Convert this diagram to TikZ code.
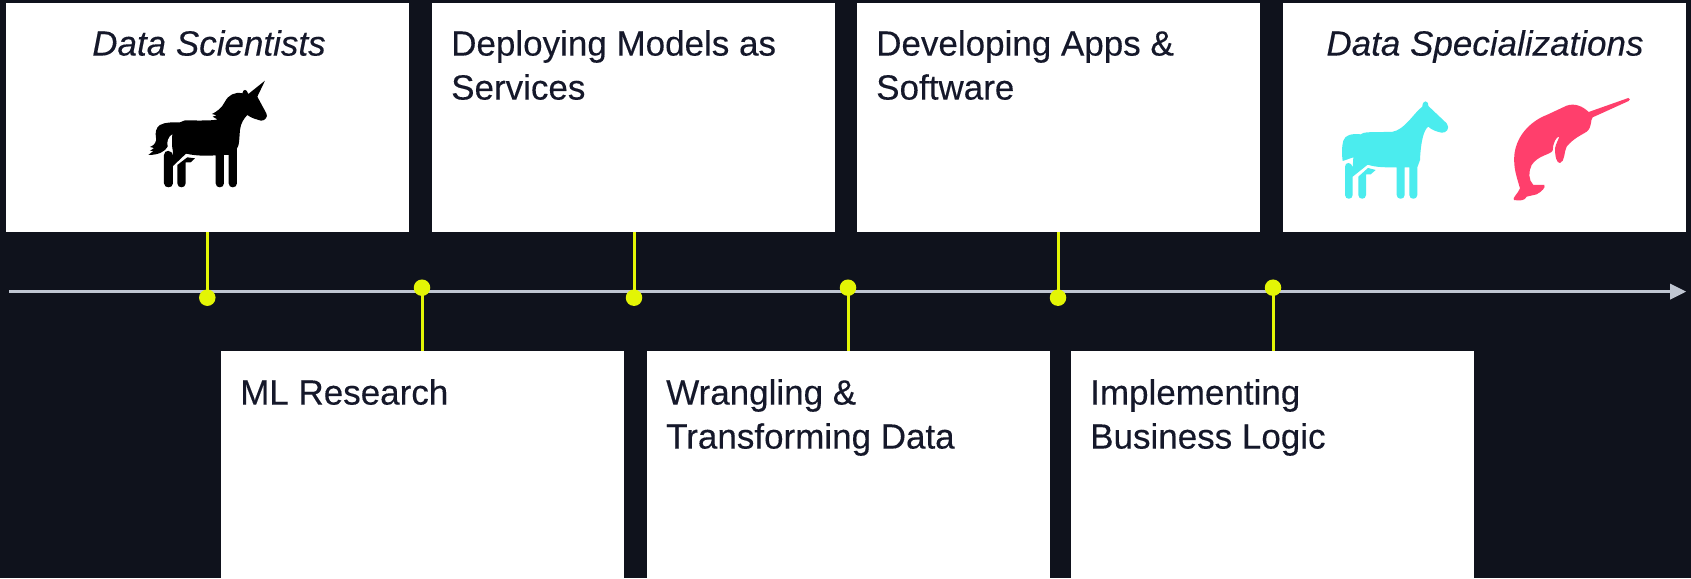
\documentclass[tikz,border=0pt]{standalone}
\usepackage{fontspec}
\setmainfont[Ligatures=TeX,FakeBold=0.25]{Liberation Sans}
\definecolor{bgc}{HTML}{0F121C}
\definecolor{inkc}{HTML}{15182A}
\definecolor{limec}{HTML}{E3F505}
\definecolor{axisc}{HTML}{C0C6D2}
\definecolor{cyanc}{HTML}{4BECEE}
\definecolor{pinkc}{HTML}{FF3F6C}
\tikzset{
 card/.style={fill=white,draw=none,minimum width=403pt,minimum height=229pt,anchor=north west,inner sep=0pt},
 lab/.style={anchor=north west,align=left,inner sep=0pt,text=inkc,font=\fontsize{35}{44}\selectfont},
 ilab/.style={anchor=north,inner sep=0pt,text=inkc,font=\fontsize{35}{44}\selectfont\itshape},
 dot/.style={circle,fill=limec,minimum size=16.5pt,inner sep=0pt},
 stem/.style={draw=limec,line width=3pt},
 axisl/.style={draw=axisc,line width=3pt},
}
\begin{document}
\begin{tikzpicture}[x=1pt,y=-1pt]
\fill[bgc] (0,0) rectangle (1691,578);
\useasboundingbox (0,0) rectangle (1691,578);
\node[card] (c1) at (6,3) {};
\node[card] (c3) at (432,3) {};
\node[card] (c5) at (857,3) {};
\node[card] (c7) at (1283,3) {};
\node[card] (c2) at (221,351) {};
\node[card] (c4) at (647,351) {};
\node[card] (c6) at (1071,351) {};
\coordinate (as) at (9,291.3);
\coordinate (ae) at (1686,291.6);
\draw[axisl] (as) -- (1672,291.3);
\fill[axisc] (1670,283.6) -- (ae) -- (1670,299.7) -- cycle;
\node[dot] (d1) at (207.3,297.7) {};
\node[dot] (d2) at (422,287.7) {};
\node[dot] (d3) at (634,297.7) {};
\node[dot] (d4) at (848,287.7) {};
\node[dot] (d5) at (1058,297.7) {};
\node[dot] (d6) at (1273,287.7) {};
\draw[stem] (d1.center) -- (d1.center |- c1.south);
\draw[stem] (d2.center) -- (d2.center |- c2.north);
\draw[stem] (d3.center) -- (d3.center |- c3.south);
\draw[stem] (d4.center) -- (d4.center |- c4.north);
\draw[stem] (d5.center) -- (d5.center |- c5.south);
\draw[stem] (d6.center) -- (d6.center |- c6.north);
\node[ilab] (t1) at (209,30) {Data Scientists};
\node[lab] (t3) at (451,30) {Deploying Models as\\Services};
\node[lab] (t5) at (876,30) {Developing Apps \&\\Software};
\node[ilab] (t7) at (1485,30) {Data Specializations};
\node[lab] (t2) at (240,379) {ML Research};
\node[lab] (t4) at (666,379) {Wrangling \&\\Transforming Data};
\node[lab] (t6) at (1090,379) {Implementing\\Business Logic};
% unicorn
\begin{scope}[shift={(100,50)},x=0.3333pt,y=-0.3333pt]
\fill[black,line join=round] (495,92) -- (445,132) .. controls (440,116) and (430,116) .. (427,130)
 .. controls (405,125) and (385,135) .. (375,155) .. controls (365,175) and (350,185) .. (336,192)
 -- (350,196) -- (338,200) -- (352,208) .. controls (345,212) and (300,212) .. (255,211)
 -- (240,217) .. controls (220,217) and (195,216) .. (180,225) .. controls (168,232) and (165,250) .. (168,262)
 .. controls (170,275) and (165,285) .. (150,291) -- (162,294) -- (150,303) -- (160,303) -- (145,315)
 .. controls (175,315) and (195,305) .. (203,290) .. controls (200,275) and (203,262) .. (217,252)
 .. controls (216,270) and (215,290) .. (219,305) -- (219,348) -- (258,311)
 .. controls (290,318) and (320,318) .. (347,316) -- (347,400) .. controls (347,416) and (372,416) .. (372,400)
 -- (372,315) -- (386,315) -- (386,400) .. controls (386,416) and (411,416) .. (411,400)
 -- (411,295) .. controls (418,290) and (418,260) .. (420,240) .. controls (422,220) and (432,205) .. (442,195)
 .. controls (455,205) and (470,208) .. (483,212) .. controls (495,213) and (505,200) .. (499,190)
 -- (472,140) -- cycle;
\fill[black] (192,315) .. controls (192,298) and (217,298) .. (219,318) -- (219,400) .. controls (219,416) and (192,416) .. (192,400) -- cycle;
\fill[black] (232,345) -- (262,322) -- (285,325) -- (272,337) -- (257,337) -- (257,400) .. controls (257,416) and (232,416) .. (232,400) -- cycle;
\end{scope}
% horse
\begin{scope}[shift={(1300,80)},x=0.3333pt,y=-0.3333pt]
\fill[cyanc,line join=round] (367,80) .. controls (367,60) and (385,58) .. (385,78)
 -- (440,130) .. controls (452,145) and (438,160) .. (425,158) .. controls (410,155) and (395,150) .. (385,140)
 .. controls (370,150) and (362,190) .. (360,240) -- (352,262) -- (352,345) .. controls (352,360) and (328,360) .. (328,345)
 -- (328,262) -- (314,262) -- (314,345) .. controls (314,360) and (290,360) .. (290,345)
 -- (290,262) .. controls (260,262) and (230,263) .. (203,254) -- (158,290)
 -- (158,345) .. controls (158,360) and (135,360) .. (135,345) -- (135,260) .. controls (135,245) and (155,245) .. (158,262)
 -- (160,232) -- (128,243)
 .. controls (125,220) and (125,200) .. (130,182) .. controls (135,165) and (155,160) .. (182,163)
 .. controls (190,156) and (205,156) .. (275,156) .. controls (315,150) and (340,100) .. (367,80) -- cycle;
\fill[cyanc] (175,290) -- (204,264) -- (227,270) -- (212,283) -- (198,283) -- (198,345) .. controls (198,360) and (175,360) .. (175,345) -- cycle;
\end{scope}
% narwhal
\begin{scope}[shift={(1300,80)},x=0.3333pt,y=-0.3333pt]
\fill[pinkc,line join=round] (985,54) .. controls (990,55) and (992,60) .. (986,63) -- (878,112)
 .. controls (870,120) and (878,140) .. (860,155) .. controls (845,165) and (820,175) .. (800,200)
 .. controls (792,215) and (795,245) .. (780,249) .. controls (770,250) and (765,230) .. (765,205)
 .. controls (768,190) and (775,180) .. (778,170) .. controls (770,168) and (758,190) .. (758,212)
 .. controls (750,225) and (715,225) .. (695,255) .. controls (685,275) and (685,300) .. (700,315)
 -- (733,315) .. controls (738,322) and (725,335) .. (710,343) -- (680,350) .. controls (675,362) and (660,363) .. (642,360)
 .. controls (635,355) and (655,340) .. (660,325) .. controls (650,290) and (640,265) .. (643,225)
 .. controls (650,160) and (700,120) .. (740,105) -- (800,77) .. controls (825,68) and (850,80) .. (866,96) -- cycle;
\end{scope}
\end{tikzpicture}
\end{document}
